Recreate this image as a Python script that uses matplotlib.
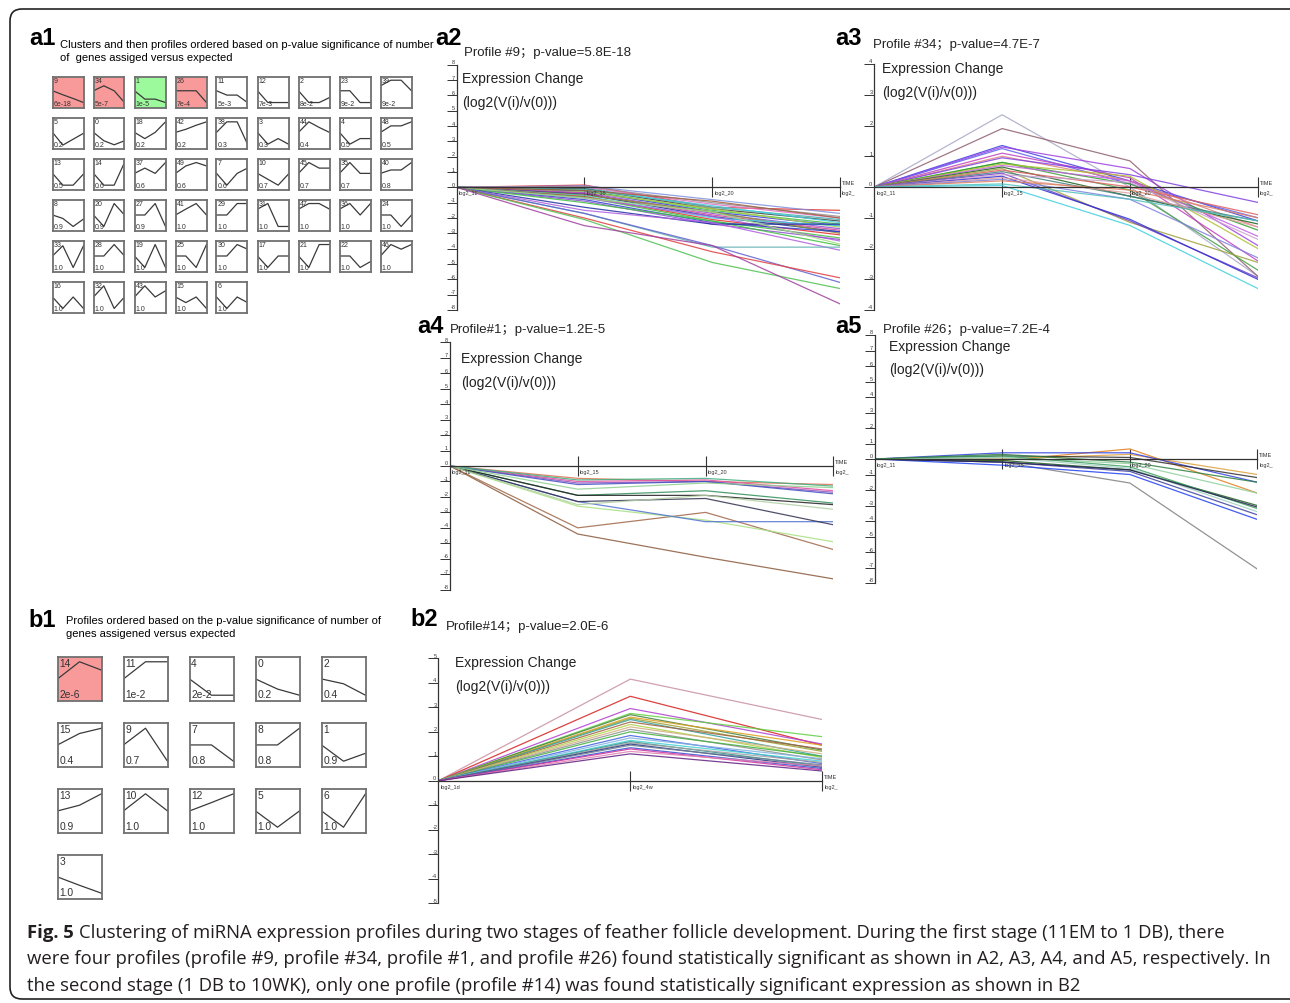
import matplotlib
matplotlib.use('Agg')
import matplotlib.pyplot as plt
from matplotlib.transforms import ScaledTranslation, IdentityTransform
from matplotlib.patches import FancyBboxPatch

plt.rcParams['font.family'] = ['Liberation Sans', 'Noto Sans CJK SC', 'DejaVu Sans']

# ---------------- data ----------------
# a1: model profiles (4 time points), shape levels inside each thumbnail (0=bottom, 1=top)
a1_ids = [9, 34, 1, 26, 11, 12, 2, 23, 39,
          5, 0, 18, 42, 38, 3, 44, 4, 48,
          13, 14, 37, 49, 7, 10, 45, 35, 40,
          8, 20, 27, 41, 29, 31, 47, 36, 24,
          33, 28, 19, 25, 30, 17, 21, 22, 46,
          16, 32, 43, 15, 6]
a1_pvals = ['6e-18', '5e-7', '1e-5', '7e-4', '5e-3', '7e-3', '8e-2', '9e-2', '9e-2',
            '0.2', '0.2', '0.2', '0.2', '0.3', '0.3', '0.4', '0.5', '0.5',
            '0.5', '0.6', '0.6', '0.6', '0.6', '0.7', '0.7', '0.7', '0.8',
            '0.9', '0.9', '0.9', '1.0', '1.0', '1.0', '1.0', '1.0', '1.0',
            '1.0', '1.0', '1.0', '1.0', '1.0', '1.0', '1.0', '1.0', '1.0',
            '1.0', '1.0', '1.0', '1.0', '1.0']
a1_shapes = [
    [0.54, 0.41, 0.29, 0.16], [0.54, 0.70, 0.54, 0.16], [0.54, 0.27, 0.27, 0.16],
    [0.54, 0.54, 0.54, 0.16], [0.54, 0.40, 0.40, 0.16], [0.54, 0.16, 0.16, 0.16],
    [0.54, 0.16, 0.16, 0.32], [0.54, 0.54, 0.16, 0.16], [0.70, 0.88, 0.88, 0.54],
    [0.52, 0.11, 0.30, 0.49], [0.52, 0.25, 0.12, 0.25], [0.52, 0.32, 0.52, 0.86],
    [0.52, 0.62, 0.75, 0.86], [0.52, 0.86, 0.86, 0.14], [0.52, 0.14, 0.32, 0.14],
    [0.52, 0.86, 0.68, 0.52], [0.52, 0.14, 0.32, 0.32], [0.52, 0.73, 0.73, 0.86],
    [0.52, 0.14, 0.14, 0.50], [0.52, 0.14, 0.14, 0.87], [0.52, 0.69, 0.52, 0.87],
    [0.52, 0.76, 0.87, 0.76], [0.52, 0.14, 0.52, 0.69], [0.52, 0.33, 0.14, 0.50],
    [0.52, 0.87, 0.69, 0.69], [0.52, 0.87, 0.52, 0.52], [0.52, 0.63, 0.63, 0.87],
    [0.50, 0.39, 0.13, 0.37], [0.50, 0.13, 0.87, 0.50], [0.50, 0.50, 0.87, 0.13],
    [0.50, 0.69, 0.87, 0.50], [0.50, 0.50, 0.87, 0.87], [0.69, 0.87, 0.13, 0.13],
    [0.69, 0.87, 0.87, 0.69], [0.69, 0.87, 0.50, 0.87], [0.50, 0.50, 0.13, 0.50],
    [0.50, 0.83, 0.13, 0.83], [0.50, 0.50, 0.87, 0.50], [0.50, 0.13, 0.87, 0.13],
    [0.50, 0.50, 0.13, 0.87], [0.50, 0.50, 0.87, 0.72], [0.50, 0.13, 0.50, 0.50],
    [0.50, 0.13, 0.87, 0.87], [0.50, 0.50, 0.13, 0.32], [0.50, 0.87, 0.72, 0.87],
    [0.50, 0.13, 0.50, 0.13], [0.50, 0.86, 0.13, 0.50], [0.50, 0.86, 0.50, 0.70],
    [0.50, 0.32, 0.50, 0.13], [0.50, 0.13, 0.50, 0.32]]
a1_highlight = {9: '#f99a9a', 34: '#f99a9a', 1: '#9cfa9c', 26: '#f99a9a'}

# b1: model profiles (3 time points)
b1_ids = [14, 11, 4, 0, 2, 15, 9, 7, 8, 1, 13, 10, 12, 5, 6, 3]
b1_pvals = ['2e-6', '1e-2', '2e-2', '0.2', '0.4', '0.4', '0.7', '0.8', '0.8', '0.9',
            '0.9', '1.0', '1.0', '1.0', '1.0', '1.0']
b1_shapes = [
    [0.49, 0.88, 0.69], [0.49, 0.88, 0.88], [0.49, 0.12, 0.12], [0.49, 0.26, 0.12],
    [0.49, 0.38, 0.12], [0.49, 0.75, 0.87], [0.49, 0.87, 0.12], [0.49, 0.49, 0.12],
    [0.49, 0.49, 0.87], [0.49, 0.12, 0.30], [0.49, 0.62, 0.88], [0.49, 0.88, 0.49],
    [0.49, 0.68, 0.88], [0.49, 0.12, 0.49], [0.49, 0.12, 0.88], [0.49, 0.30, 0.12]]
b1_highlight = {14: '#f99a9a'}

# stage 1 time points
stage1_times = ['log2_11', 'log2_15', 'log2_20', 'log2_']
# stage 2 time points
stage2_times = ['log2_1d', 'log2_4w', 'log2_']

# a2: profile #9 genes (values at log2_15, log2_20, final)
a2_lines = [
    [0.15, -1.3, -1.5], [0.10, -0.8, -1.7], [0.05, -1.0, -1.9], [0.00, -1.1, -2.0],
    [-0.05, -1.3, -2.1], [-0.10, -1.4, -2.2], [-0.15, -1.2, -2.3], [-0.20, -1.5, -2.4],
    [-0.25, -1.6, -2.5], [-0.30, -1.4, -2.6], [-0.35, -1.7, -2.7], [-0.40, -1.8, -2.8],
    [-0.45, -1.9, -2.9], [-0.50, -1.6, -3.0], [-0.55, -2.0, -2.5], [-0.60, -2.1, -3.1],
    [-0.65, -2.2, -3.3], [-0.70, -1.9, -3.5], [-0.80, -2.3, -2.9], [-0.90, -2.4, -3.4],
    [-1.00, -2.2, -3.8], [-1.30, -2.4, -2.4], [-1.50, -2.3, -4.1], [-0.70, -1.6, -3.7],
    [-0.20, -0.9, -2.0], [-1.70, -3.9, -3.9], [-1.70, -3.8, -6.2], [-2.00, -4.2, -5.9],
    [-2.10, -4.9, -6.6], [-2.50, -3.8, -7.6]]
a2_colors = ['#e03030', '#8090e0', '#909090', '#e070c0', '#40b0b0', '#404040',
             '#40d0e0', '#40c040', '#3040d0', '#b0d040', '#9050d0', '#d040a0',
             '#203090', '#909030', '#40d0e0', '#e03030', '#40c040', '#b060e0',
             '#3040d0', '#9050d0', '#40c040', '#2030a0', '#b060e0', '#a0e080',
             '#a06040', '#60b0b0', '#6060d0', '#e04040', '#50c050', '#a040a0']

# a3: profile #34
a3_lines = [
    [2.35, 0.0, -2.9], [1.9, 0.85, -2.9], [1.35, 0.2, -1.1], [1.3, 0.6, -1.9],
    [1.25, 0.1, -1.0], [1.1, 0.3, -2.4], [1.0, 0.2, -1.3], [0.95, 0.4, -0.5],
    [0.8, -0.1, -2.7], [0.8, 0.1, -1.4], [0.75, 0.35, -2.0], [0.7, 0.2, -1.6],
    [0.65, -0.3, -1.2], [0.6, -1.15, -2.45], [0.55, 0.0, -0.9], [0.5, -0.3, -1.1],
    [0.45, -1.1, -2.95], [0.4, 0.15, -1.7], [0.35, -1.05, -3.0], [0.3, -0.2, -1.3],
    [0.25, -0.4, -2.3], [0.2, -0.1, -1.0], [0.05, -1.25, -3.3], [0.1, -0.4, -1.1]]
a3_colors = ['#a8a8c8', '#906070', '#4040e0', '#a040e0', '#6060f0', '#c040c0',
             '#e08080', '#8040e0', '#40a040', '#30a030', '#b0c030', '#c060e0',
             '#206020', '#a0a040', '#e06060', '#408080', '#7040c0', '#d0a0d0',
             '#3030d0', '#e0a0a0', '#8080e0', '#e08060', '#40d0e0', '#50c0c0']

# a4: profile #1
a4_lines = [
    [-4.4, -5.9, -7.3], [-4.0, -3.0, -5.4], [-2.6, -3.5, -4.9], [-2.3, -3.6, -3.6],
    [-2.3, -2.1, -3.8], [-1.9, -1.6, -2.4], [-1.9, -1.9, -2.5], [-2.5, -1.9, -2.8],
    [-0.8, -1.0, -1.2], [-1.1, -1.0, -1.7], [-1.0, -0.9, -1.6], [-1.2, -1.0, -1.8],
    [-0.9, -0.8, -1.3], [-1.5, -1.1, -1.4]]
a4_colors = ['#8b5a3c', '#a06848', '#a8e080', '#5070d0', '#303050', '#30905a',
             '#202020', '#b0d0a0', '#e07050', '#9050c0', '#e050a0', '#4050c0',
             '#40b080', '#90d090']

# a5: profile #26
a5_lines = [
    [-0.2, -1.55, -7.1], [-0.1, 0.65, -2.2], [0.0, 0.3, -1.0], [0.4, 0.4, -1.5],
    [0.2, 0.1, -1.2], [-0.4, -1.0, -3.9], [-0.2, -0.8, -3.6], [-0.1, -0.7, -3.0],
    [0.1, -0.3, -2.2], [0.2, -0.5, -3.2], [0.1, -0.6, -3.4], [-0.2, -0.7, -3.1],
    [0.3, -0.2, -1.5]]
a5_colors = ['#808080', '#e08020', '#e0a040', '#3040e0', '#303030', '#2040f0',
             '#4040a0', '#206020', '#90d0a0', '#40a060', '#a0d0c0', '#202050',
             '#308040']

# b2: profile #14 (values at log2_4w, final)
b2_lines = [
    [4.15, 2.5], [3.45, 1.45], [2.95, 1.5], [2.75, 1.8], [2.7, 1.25], [2.6, 1.45],
    [2.55, 1.2], [2.5, 1.0], [2.4, 1.3], [2.3, 0.95], [2.2, 1.1], [2.1, 0.85],
    [2.0, 1.0], [1.85, 0.7], [1.75, 0.9], [1.65, 0.8], [1.6, 0.6], [1.55, 0.75],
    [1.5, 0.55], [1.45, 0.65], [1.35, 0.5], [1.3, 0.45], [1.2, 0.6], [1.1, 0.4]]
b2_colors = ['#c890a0', '#d62020', '#b040d0', '#60d040', '#408040', '#e0a020',
             '#a0a030', '#30a0a0', '#a06040', '#b0d040', '#d0b080', '#909090',
             '#40b040', '#4060e0', '#80b0e0', '#40d0d0', '#309090', '#a0a0a0',
             '#203080', '#708090', '#3050d0', '#d030a0', '#e080b0', '#602080']

caption_bold = 'Fig. 5'
caption_lines = [
    'Clustering of miRNA expression profiles during two stages of feather follicle development. During the first stage (11EM to 1 DB), there',
    'were four profiles (profile #9, profile #34, profile #1, and profile #26) found statistically significant as shown in A2, A3, A4, and A5, respectively. In',
    'the second stage (1 DB to 10WK), only one profile (profile #14) was found statistically significant expression as shown in B2']

# ---------------- drawing ----------------
W, H = 1290, 1004
fig = plt.figure(figsize=(W / 100, H / 100), dpi=100)


def rect(x0, y0, x1, y1):
    # image pixel box -> figure fraction rect
    return [x0 / W, 1 - y1 / H, (x1 - x0) / W, (y1 - y0) / H]


def ftext(x, y, s, **kw):
    return fig.text(x / W, 1 - y / H, s, **kw)


def px(dx, dy):
    return ScaledTranslation(dx / 100, dy / 100, fig.dpi_scale_trans)


def thumbs(ids, pvals, shapes, hl, x0, y0, pitch, size, ncol, fs):
    for k, (pid, pv, shp) in enumerate(zip(ids, pvals, shapes)):
        r, c = divmod(k, ncol)
        bx, by = x0 + c * pitch, y0 + r * pitch
        ax = fig.add_axes(rect(bx, by, bx + size, by + size))
        ax.set_facecolor(hl.get(pid, 'white'))
        ax.plot(range(len(shp)), shp, color='#3a3a3a', lw=0.9)
        ax.set_xlim(0, len(shp) - 1)
        ax.set_ylim(0, 1)
        ax.set_xticks([])
        ax.set_yticks([])
        for s in ax.spines.values():
            s.set_color('#707070')
            s.set_linewidth(1.3)
        ax.text(0.04, 0.97, str(pid), transform=ax.transAxes, ha='left', va='top',
                fontsize=fs, color='#333333')
        ax.text(0.04, 0.03, pv, transform=ax.transAxes, ha='left', va='bottom',
                fontsize=fs, color='#333333')


def profile_panel(box, ymax, times, lines, colors):
    ax = fig.add_axes(rect(*box))
    ax.patch.set_alpha(0)
    n = len(times)
    for vals, col in zip(lines, colors):
        ax.plot(range(n), [0] + list(vals), color=col, lw=0.9, alpha=0.85)
    ax.set_xlim(0, n - 1)
    ax.set_ylim(-ymax, ymax)
    ax.spines['top'].set_visible(False)
    ax.spines['right'].set_visible(False)
    ax.spines['bottom'].set_position(('data', 0))
    for s in ('left', 'bottom'):
        ax.spines[s].set_color('#333333')
        ax.spines[s].set_linewidth(0.9)
    ax.set_yticks(range(-ymax, ymax + 1))
    ax.tick_params(axis='y', direction='out', length=7, width=0.7, color='#333333',
                   labelleft=False)
    ax.set_xticks(range(1, n))
    ax.tick_params(axis='x', direction='inout', length=14, width=0.8, color='#333333',
                   labelbottom=False)
    for v in range(-ymax, ymax + 1):
        ax.text(0, v, str(v), transform=ax.transData + px(-3.5, 0.5), ha='center',
                va='bottom', fontsize=4, color='#333333')
    for i, nm in enumerate(times):
        ax.text(i, 0, nm, transform=ax.transData + px(2, -3), ha='left', va='top',
                fontsize=4, color='#333333', clip_on=False)
    ax.text(n - 1, 0, 'TIME', transform=ax.transData + px(2, 2), ha='left',
            va='bottom', fontsize=4, color='#333333')
    return ax


def panel_texts(label, lx, ly, title, tx, ty, ex, ey1, ey2):
    ftext(lx, ly, label, fontsize=17, fontweight='bold', va='baseline')
    ftext(tx, ty, title, fontsize=9.5, va='baseline', color='#222222')
    ftext(ex, ey1, 'Expression Change', fontsize=10, va='baseline', color='#222222')
    ftext(ex, ey2, '(log2(V(i)/v(0)))', fontsize=10, va='baseline', color='#222222')


# border
fig.add_artist(FancyBboxPatch((10, 4), 1300, 990, boxstyle='round,pad=0,rounding_size=12',
                              transform=IdentityTransform(), fill=False,
                              edgecolor='#222222', lw=1.2))

# a1
ftext(29, 45, 'a1', fontsize=17, fontweight='bold', va='baseline')
ftext(60, 48, 'Clusters and then profiles ordered based on p-value significance of number',
      fontsize=8, va='baseline')
ftext(60, 61, 'of  genes assiged versus expected', fontsize=8, va='baseline')
thumbs(a1_ids, a1_pvals, a1_shapes, a1_highlight, 52.5, 77.5, 41, 31, 9, 5)

# b1
ftext(28, 627, 'b1', fontsize=17, fontweight='bold', va='baseline')
ftext(66, 624, 'Profiles ordered based on the p-value significance of number of',
      fontsize=8, va='baseline')
ftext(66, 637, 'genes assigened versus expected', fontsize=8, va='baseline')
thumbs(b1_ids, b1_pvals, b1_shapes, b1_highlight, 57.5, 657.5, 66, 44, 5, 7.4)

# a2
profile_panel((456.7, 65.7, 840, 311), 8, stage1_times, a2_lines, a2_colors)
panel_texts('a2', 435, 45, 'Profile #9；p-value=5.8E-18', 464, 56, 462, 83, 107)

# a3
profile_panel((874.3, 65, 1257.7, 311), 4, stage1_times, a3_lines, a3_colors)
panel_texts('a3', 835, 45, 'Profile #34；p-value=4.7E-7', 873, 48, 882, 73, 97)

# a4
profile_panel((450, 343.3, 833.3, 590.7), 8, stage1_times, a4_lines, a4_colors)
panel_texts('a4', 417, 333, 'Profile#1；p-value=1.2E-5', 450, 333, 461, 363, 387)

# a5
profile_panel((875, 336, 1257.3, 584), 8, stage1_times, a5_lines, a5_colors)
panel_texts('a5', 835, 333, 'Profile #26；p-value=7.2E-4', 883, 333, 889, 351, 374)

# b2
profile_panel((438.3, 659.3, 822.3, 904.3), 5, stage2_times, b2_lines, b2_colors)
panel_texts('b2', 410, 626, 'Profile#14；p-value=2.0E-6', 446, 630, 455, 667, 691)

# caption
cap_kw = dict(fontsize=13.3, va='baseline', color='#231f20', family='Open Sans')
renderer = fig.canvas.get_renderer()
tb = ftext(27, 938, caption_bold, fontweight='bold', **cap_kw)
bx1 = tb.get_window_extent(renderer).x1
ftext(bx1 + 5, 938, caption_lines[0], **cap_kw)
ftext(27, 964.5, caption_lines[1], **cap_kw)
ftext(27, 991, caption_lines[2], **cap_kw)

fig.savefig('out.png', dpi=100)
